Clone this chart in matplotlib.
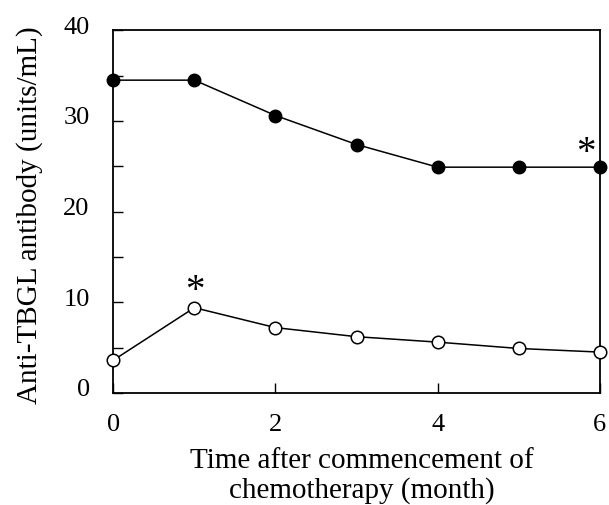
import matplotlib.pyplot as plt
import matplotlib.transforms as mtransforms
import numpy as np

# Dane
months = [0, 1, 2, 3, 4, 5, 6]
filled = [34.5, 34.5, 30.6, 27.4, 24.9, 24.9, 24.9]
open_ = [3.6, 9.4, 7.2, 6.2, 5.6, 4.9, 4.5]

# Gwiazdki (istotnosc)
star_x = [1, 5.83]
star_y = [9.1, 24.4]

plt.rcParams['font.family'] = ['Liberation Serif', 'DejaVu Serif']

fig = plt.figure(figsize=(6.09, 5.05), dpi=100)
ax = fig.add_axes([0.186, 0.222, 0.799, 0.718])

ax.plot(months, filled, color='black', linewidth=1.1, marker='o',
        markersize=9, markerfacecolor='black', markeredgecolor='black',
        clip_on=False, zorder=3)
ax.plot(months, open_, color='black', linewidth=1.1, marker='o',
        markersize=9, markerfacecolor='white', markeredgecolor='black',
        markeredgewidth=1.1, clip_on=False, zorder=3)

for sx, sy in zip(star_x, star_y):
    ax.text(sx, sy, '*', fontsize=28, ha='center', va='bottom')

ax.set_xlim(0, 6)
ax.set_ylim(0, 40)
ax.set_xticks([0, 2, 4, 6])
ax.set_yticks([0, 10, 20, 30, 40])
ax.set_yticks([5, 15, 25, 35], minor=True)

ax.tick_params(axis='both', which='both', direction='in', length=7,
               width=1.0, labelsize=19, top=False, right=False)
ax.tick_params(axis='x', pad=15)
ax.tick_params(axis='y', pad=17)

# etykiety osi Y lekko przesuniete w gore (jak w oryginale)
off = mtransforms.ScaledTranslation(0, 5 / 100, fig.dpi_scale_trans)
for lab in ax.get_yticklabels():
    lab.set_transform(lab.get_transform() + off)

for s in ax.spines.values():
    s.set_linewidth(1.3)

ax.set_xlabel('Time after commencement of\nchemotherapy (month)',
              fontsize=21, linespacing=1.15)
ax.xaxis.set_label_coords(0.511, -0.152)
ax.set_ylabel('Anti-TBGL antibody (units/mL)', fontsize=21)
ax.yaxis.set_label_coords(-0.145, 0.49)

plt.savefig('out.png', dpi=100)
